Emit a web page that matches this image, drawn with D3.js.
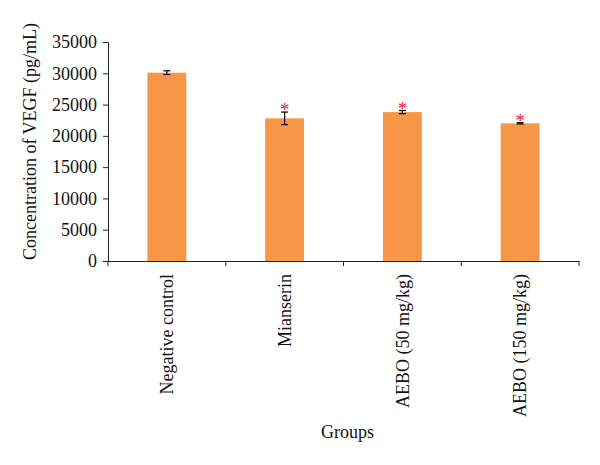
<!DOCTYPE html>
<html>
<head>
<meta charset="utf-8">
<script src="https://cdn.jsdelivr.net/npm/d3@7"></script>
<style>
body { margin: 0; background: #fff; }
text { font-family: 'Liberation Serif', 'DejaVu Serif', serif; fill: #111; }
</style>
</head>
<body>
<div id="svg"></div>
<script>
let groups = ['Negative control', 'Mianserin', 'AEBO (50 mg/kg)', 'AEBO (150 mg/kg)']
let means = [30100, 22800, 23800, 22000]
let errors = [300, 1000, 250, 100]
let significant = [false, true, true, true]
let yTicks = [0, 5000, 10000, 15000, 20000, 25000, 30000, 35000]

let margin = {top: 42, right: 21, bottom: 204, left: 108}
let width = 471, height = 219

let svg = d3.select('#svg')
.append('svg')
.attr('width', 600)
.attr('height', 465)

let xScale = d3.scaleBand()
.domain(groups)
.range([margin.left, margin.left + width])
.paddingInner(0.67)
.paddingOuter(0.335)

let yScale = d3.scaleLinear()
.domain([0, 35000])
.range([margin.top + height, margin.top])

// bars
svg.selectAll('.bar')
.data(groups)
.join('rect')
.attr('class', 'bar')
.attr('x', d => xScale(d))
.attr('width', xScale.bandwidth())
.attr('y', (d, i) => yScale(means[i]))
.attr('height', (d, i) => yScale(0) - yScale(means[i]))
.style('fill', '#F79646')

// error bars
let cx = d => xScale(d) + xScale.bandwidth() / 2
let err = svg.selectAll('.err')
.data(groups)
.join('g')
.attr('class', 'err')
.style('stroke', '#111')
.style('stroke-width', 1.3)

err.append('line')
.attr('x1', cx).attr('x2', cx)
.attr('y1', (d, i) => yScale(means[i] + errors[i]))
.attr('y2', (d, i) => yScale(means[i] - errors[i]))
err.append('line')
.attr('x1', d => cx(d) - 3.5).attr('x2', d => cx(d) + 3.5)
.attr('y1', (d, i) => yScale(means[i] + errors[i]))
.attr('y2', (d, i) => yScale(means[i] + errors[i]))
err.append('line')
.attr('x1', d => cx(d) - 3.5).attr('x2', d => cx(d) + 3.5)
.attr('y1', (d, i) => yScale(means[i] - errors[i]))
.attr('y2', (d, i) => yScale(means[i] - errors[i]))

// asterisks
svg.selectAll('.star')
.data(groups.filter((d, i) => significant[i]))
.join('text')
.attr('class', 'star')
.attr('x', cx)
.attr('y', d => {
	let i = groups.indexOf(d)
	return yScale(means[i] + errors[i]) + 4
})
.text('*')
.style('fill', '#e8202a')
.style('font-size', '19px')
.style('text-anchor', 'middle')

// y axis
let yAxis = svg.append('g')
.attr('transform', `translate(${margin.left}, 0)`)
.call(d3.axisLeft(yScale).tickValues(yTicks).tickFormat(d3.format('d')).tickSize(5).tickPadding(6))
yAxis.selectAll('text').style('font-size', '18px')
yAxis.selectAll('line, path').style('stroke', '#222')

// x axis
let xAxis = svg.append('g')
.attr('transform', `translate(0, ${margin.top + height})`)
.call(d3.axisBottom(xScale).tickSize(0).tickSizeOuter(0))
xAxis.select('.domain').style('stroke', '#222')
xAxis.selectAll('.tick line').remove()
xAxis.selectAll('text')
.style('font-size', '18px')
.style('text-anchor', 'end')
.attr('transform', 'rotate(-90)')
.attr('x', -13)
.attr('y', 0)
.attr('dy', '0.35em')

// category separators
let edges = groups.map(d => xScale(d) - xScale.step() * xScale.paddingInner() / 2)
edges.push(margin.left + width)
svg.selectAll('.sep')
.data(edges)
.join('line')
.attr('class', 'sep')
.attr('x1', d => d).attr('x2', d => d)
.attr('y1', margin.top + height)
.attr('y2', margin.top + height + 5)
.style('stroke', '#222')

svg.append('text')
.text('Concentration of VEGF (pg/mL)')
.attr('transform', `translate(36, ${margin.top + height / 2 - 10})rotate(-90)`)
.style('text-anchor', 'middle')
.style('font-size', '18px')

svg.append('text')
.text('Groups')
.attr('x', margin.left + width / 2 + 4)
.attr('y', 438)
.style('text-anchor', 'middle')
.style('font-size', '18px')
</script>
</body>
</html>
